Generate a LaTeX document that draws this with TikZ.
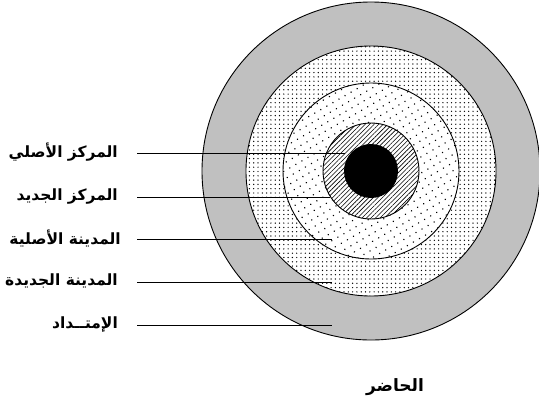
\documentclass[tikz,border=0pt]{standalone}
\usepackage{fontspec}
\usetikzlibrary{patterns.meta}
\TeXXeTstate=1
\newfontfamily\arabicfont[Script=Arabic]{DejaVu Sans}
\tikzset{
  ringline/.style={draw=black, line width=0.9pt},
  leader/.style={draw=black, line width=0.9pt},
  lbl/.style={anchor=east, inner sep=0pt, font=\arabicfont\bfseries\fontsize{15.5}{17}\selectfont},
  ttl/.style={inner sep=0pt, font=\arabicfont\bfseries\fontsize{17}{19}\selectfont},
}
\begin{document}
\begin{tikzpicture}[x=1pt,y=-1pt]
\useasboundingbox (0,0) rectangle (539,408);
\coordinate (c) at (371,171);
% rings
\fill[fill={rgb,255:red,192;green,192;blue,192}] (c) circle (169);
\draw[ringline] (c) circle (169);
\fill[white] (c) circle (125);
\fill[pattern={Dots[distance=4.3pt,radius=0.7pt]}] (c) circle (125);
\draw[ringline] (c) circle (125);
\fill[white] (c) circle (88);
\fill[pattern={Dots[distance=7pt,radius=0.8pt,angle=30]}] (c) circle (88);
\draw[ringline] (c) circle (88);
\fill[white] (c) circle (48);
\fill[pattern={Lines[distance=3.2pt,angle=45,line width=0.6pt]}] (c) circle (48);
\draw[ringline] (c) circle (48);
\fill[black] (c) circle (27);
% labels
\node[lbl] (l1) at (118,152) {\beginR المركز الأصلي\endR};
\node[lbl] (l2) at (118,196) {\beginR المركز الجديد\endR};
\node[lbl] (l3) at (121,238) {\beginR المدينة الأصلية\endR};
\node[lbl] (l4) at (118,281) {\beginR المدينة الجديدة\endR};
\node[lbl] (l5) at (118,324) {\beginR الإمتــداد\endR};
% leader ends
\coordinate (e1) at (345,153);
\coordinate (e2) at (330,197);
\coordinate (e3) at (332,239);
\coordinate (e4) at (332,282);
\coordinate (e5) at (332,325);
\draw[leader] ([xshift=19pt,yshift=-1pt]l1.east) -- (e1);
\draw[leader] ([xshift=19pt,yshift=-1pt]l2.east) -- (e2);
\draw[leader] ([xshift=16pt,yshift=-1pt]l3.east) -- (e3);
\draw[leader] ([xshift=19pt,yshift=-1pt]l4.east) -- (e4);
\draw[leader] ([xshift=19pt,yshift=-1pt]l5.east) -- (e5);
% title
\node[ttl] (title) at (395,387) {\beginR الحاضر\endR};
\end{tikzpicture}
\end{document}
